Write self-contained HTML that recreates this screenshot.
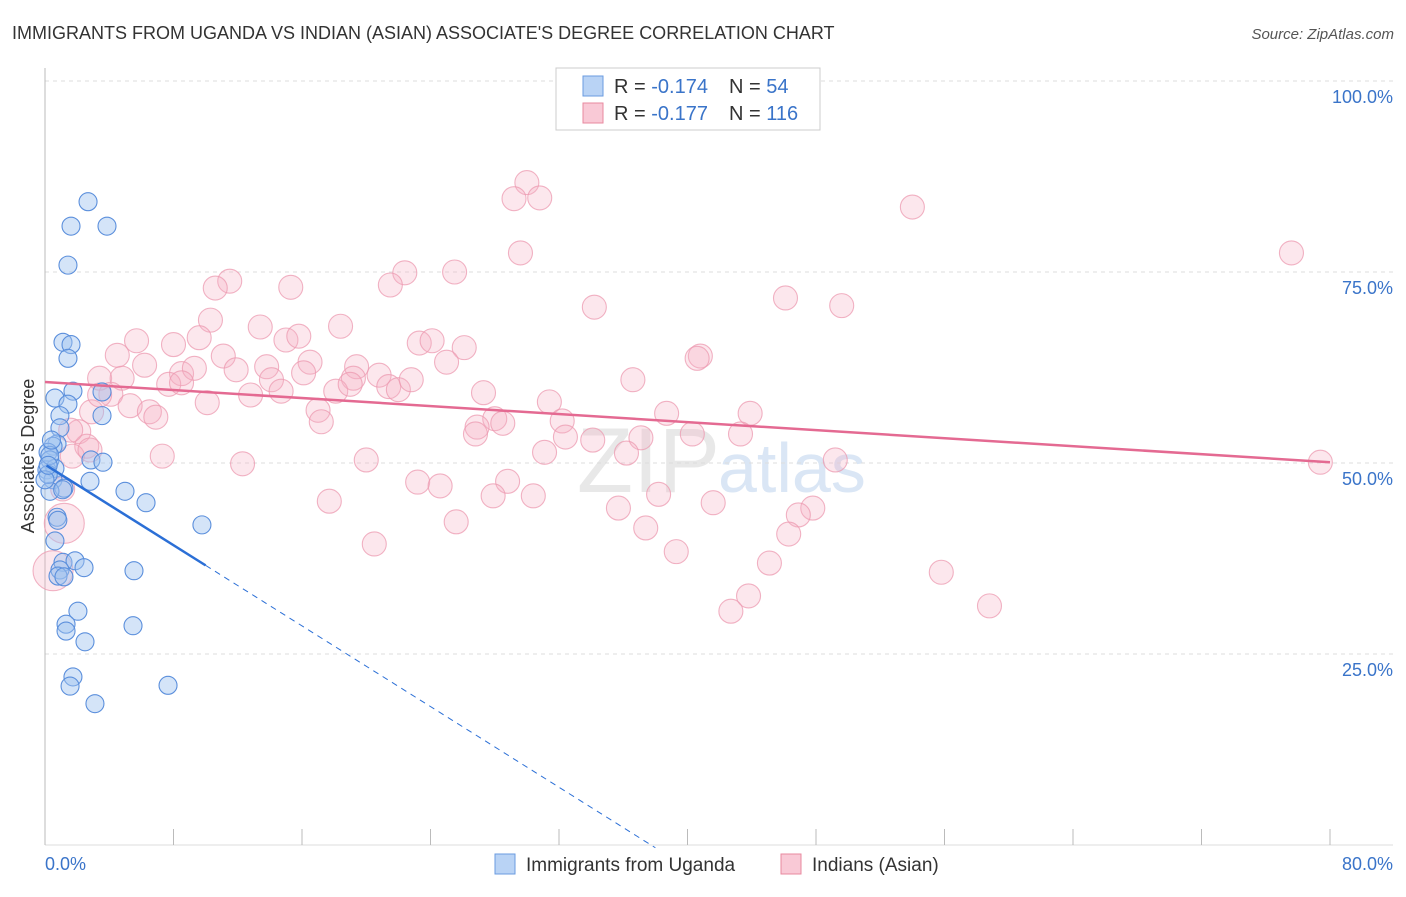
<!DOCTYPE html>
<html><head><meta charset="utf-8"><style>
body{margin:0;background:#fff;font-family:"Liberation Sans",sans-serif}
svg text{font-family:"Liberation Sans",sans-serif}
</style></head><body>
<svg id="c" width="1406" height="892">
<text x="12" y="39" font-size="18" fill="#333">IMMIGRANTS FROM UGANDA VS INDIAN (ASIAN) ASSOCIATE'S DEGREE CORRELATION CHART</text>
<text x="1394" y="39" font-size="15" fill="#555" text-anchor="end" font-style="italic">Source: ZipAtlas.com</text>
<text x="720" y="492" font-size="92" fill="#e8e8e8" text-anchor="end" font-family="Liberation Serif">ZIP</text>
<text x="718" y="492" font-size="70" fill="#dae6f5">atlas</text>
<g id="grid"></g><g id="pts"></g><g id="trend"></g>
<text transform="translate(34,456) rotate(-90)" font-size="18" fill="#333" text-anchor="middle">Associate's Degree</text>
<text x="45" y="870" font-size="18" fill="#3a74c9">0.0%</text>
<text x="1393" y="870" font-size="18" fill="#3a74c9" text-anchor="end">80.0%</text>
<g>
<rect x="556" y="68" width="264" height="62" fill="#fff" stroke="#ccc"/>
<rect x="583" y="76" width="20" height="20" fill="#b9d3f5" stroke="#6a9be0"/>
<rect x="583" y="103" width="20" height="20" fill="#f9c9d6" stroke="#e8899f"/>
<text x="614" y="93" font-size="20" fill="#333">R = <tspan fill="#3a74c9">-0.174</tspan></text>
<text x="729" y="93" font-size="20" fill="#333">N =  <tspan fill="#3a74c9">54</tspan></text>
<text x="614" y="120" font-size="20" fill="#333">R = <tspan fill="#3a74c9">-0.177</tspan></text>
<text x="729" y="120" font-size="20" fill="#333">N = <tspan fill="#3a74c9">116</tspan></text>
</g>
<g>
<rect x="495" y="854" width="20" height="20" fill="#b9d3f5" stroke="#6a9be0"/>
<text x="526" y="871" font-size="19" fill="#333">Immigrants from Uganda</text>
<rect x="781" y="854" width="20" height="20" fill="#f9c9d6" stroke="#e8899f"/>
<text x="812" y="871" font-size="19" fill="#333">Indians (Asian)</text>
</g>
</svg>
<script>
const yTicks=[25,50,75,100];
const yTickLabels=["25.0%","50.0%","75.0%","100.0%"];
const xTicks=[0,8,16,24,32,40,48,56,64,72,80];
const blueX=[2.68,1.62,3.86,1.43,1.12,1.62,1.43,1.74,0.62,1.43,3.55,0.93,3.55,0.93,0.75,0.5,0.19,0.31,0.12,0.62,2.86,3.61,0.5,2.8,1.18,4.98,6.29,0.31,0.75,0.62,1.12,1.87,2.43,0.93,0.81,1.18,5.54,9.77,2.05,1.31,1.31,2.49,5.48,1.74,1.56,7.66,3.11,0.3,0.2,0.8,1.1,0,0.2,0.4];
const blueY=[84.2,81,81,75.9,65.8,65.5,63.7,59.4,58.5,57.7,59.3,56.2,56.2,54.6,52.5,52.2,51.4,50.4,49.1,49.3,50.4,50.1,47.8,47.6,46.7,46.3,44.8,46.3,42.9,39.8,37,37.2,36.3,36,35.2,35.1,35.9,41.9,30.6,28.9,28,26.6,28.7,22,20.8,20.9,18.5,51,48.5,42.5,46.5,47.8,49.7,53];
const pinkX=[30,29.2,30.8,54,77.6,29.6,25.5,22.4,11.5,10.6,15.3,21.5,46.1,49.6,34.2,10.3,13.4,18.4,5.7,8,9.6,15,15.8,23.3,24.1,26.1,4.5,11.1,13.8,16.5,19.4,25,40.8,40.6,6.2,8.5,9.3,11.9,16.1,20.8,19.2,3.4,4.8,7.7,8.5,14.1,21.4,22,22.8,36.6,4.1,27.3,12.8,14.7,18.1,19,10.1,5.3,2.9,6.5,6.9,17,17.2,31.4,38.7,43.9,28,26.9,28.5,2.1,2.6,26.8,32.2,32.4,34.1,37.1,40.3,43.3,1.7,7.3,12.3,20,31.1,36.2,49.2,79.4,23.2,24.6,28.8,1.1,17.7,27.9,30.4,38.2,41.6,35.7,47.8,46.9,25.6,37.4,20.5,46.3,39.3,45.1,0.5,55.8,43.8,58.8,42.7,1.2,3.4,1.6,2.8];
const pinkY=[86.7,84.6,84.7,83.5,77.5,77.5,75,74.9,73.8,72.9,73,73.3,71.6,70.6,70.4,68.7,67.8,67.9,66,65.5,66.4,66.1,66.6,65.7,66,65.1,64.1,64,62.6,63.2,62.6,63.2,64,63.7,62.8,61.7,62.4,62.2,61.8,61.5,61.1,61.1,61.1,60.3,60.5,60.9,60,59.6,60.9,60.9,59,59.2,58.9,59.4,59.4,60.3,57.9,57.5,56.7,56.7,56,56.9,55.4,58,56.5,56.5,55.8,54.7,55.2,54.1,52.2,53.8,55.5,53.4,53,53.3,53.8,53.8,50.9,50.9,49.9,50.4,51.4,51.3,50.4,50.1,47.5,47,47.6,46.6,45,45.7,45.7,45.9,44.8,44.1,44.1,43.2,42.3,41.5,39.4,40.7,38.4,36.9,35.9,35.7,32.6,31.3,30.6,42.1,58.9,54.3,51.7];
const pinkTrend=[60.6,50.1];
const blueIntercept=49.8, blueSlope=-1.32, blueSolidEnd=10, blueDashEnd=38;
const NS='http://www.w3.org/2000/svg';
const X=v=>45+v/80*1285, Y=v=>845-v/100*764;
function mk(p,t,a){const e=document.createElementNS(NS,t);for(const k in a)e.setAttribute(k,a[k]);p.appendChild(e);return e;}
const grid=document.getElementById('grid');
yTicks.forEach((t,i)=>{
 const l=mk(grid,'line',{x1:45,x2:1393,y1:Y(t),y2:Y(t),stroke:'#ddd','stroke-dasharray':'4,4'});
 
 
 const tx=mk(grid,'text',{x:1393,y:Y(t)+22,'font-size':18,fill:'#3a74c9','text-anchor':'end'});
 tx.textContent=yTickLabels[i];
 
 
});
const ax=mk(grid,'line',{x1:45,x2:45,y1:68,y2:845,stroke:'#bbb'});


const bx=mk(grid,'line',{x1:45,x2:1393,y1:845,y2:845,stroke:'#ddd'});


xTicks.forEach(t=>{
 const l=mk(grid,'line',{x1:X(t),x2:X(t),y1:829,y2:845,stroke:'#bbb'});
 
 
});
const pts=document.getElementById('pts');
pinkX.forEach((x,i)=>{
 const big=(x<1.5&&(pinkY[i]<43))?20:12;
 const c=mk(pts,'circle',{cx:X(x),cy:Y(pinkY[i]),r:big,fill:'rgba(245,175,196,0.3)',stroke:'#ec9ab0','stroke-width':1.1,'stroke-opacity':0.75});
 
 
});
blueX.forEach((x,i)=>{
 const c=mk(pts,'circle',{cx:X(x),cy:Y(blueY[i]),r:9,fill:'rgba(160,196,240,0.45)',stroke:'#5b8fdc','stroke-width':1.1});
 
 
});
const tr=document.getElementById('trend');
const pl=mk(tr,'line',{x1:X(0),y1:Y(pinkTrend[0]),x2:X(80),y2:Y(pinkTrend[1]),stroke:'#e46a92','stroke-width':2.5});


const bl=mk(tr,'line',{x1:X(0.1),y1:Y(blueIntercept+blueSlope*0.1),x2:X(blueSolidEnd),y2:Y(blueIntercept+blueSlope*blueSolidEnd),stroke:'#2b6fd6','stroke-width':2.5});


const bd=mk(tr,'line',{x1:X(blueSolidEnd),y1:Y(blueIntercept+blueSlope*blueSolidEnd),x2:X(blueDashEnd),y2:Y(blueIntercept+blueSlope*blueDashEnd),stroke:'#2b6fd6','stroke-width':1,'stroke-dasharray':'6,5'});


</script>
</body></html>
